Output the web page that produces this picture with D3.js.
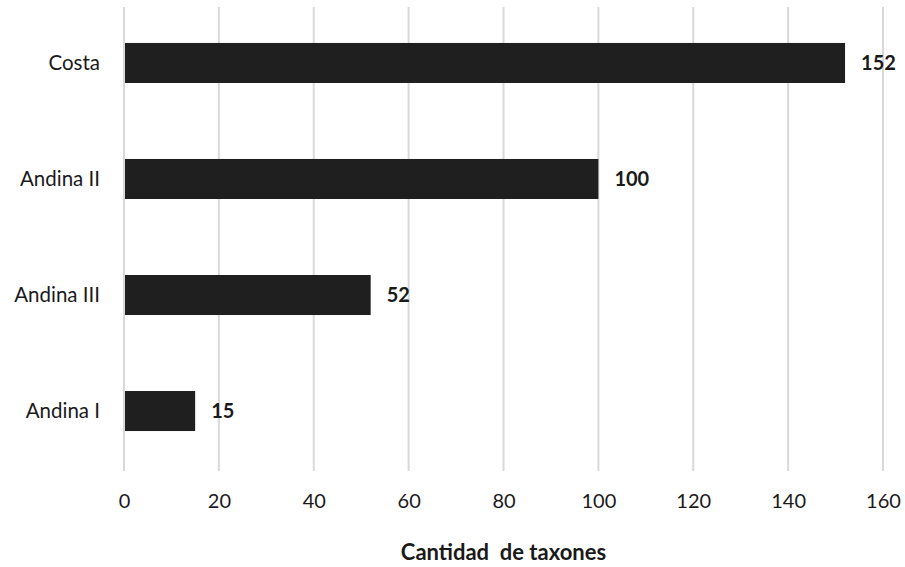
<!DOCTYPE html>
<html>
<head>
<meta charset="utf-8">
<script src="https://cdn.jsdelivr.net/npm/d3@7"></script>
<style>
  body { margin: 0; background: #fff; }
  text { font-family: Lato, "Open Sans", sans-serif; fill: #1a1a1a; }
</style>
</head>
<body>
<svg></svg>
<script>
// Categories and values (top to bottom)
const regions = ["Costa", "Andina II", "Andina III", "Andina I"];
const taxa = [152, 100, 52, 15];
const xTicks = [0, 20, 40, 60, 80, 100, 120, 140, 160];

// Set up the SVG dimensions and margins
const W = 905, H = 567;
const margin = { top: 7, right: 22, bottom: 96, left: 124 };
const width = W - margin.left - margin.right;
const height = H - margin.top - margin.bottom;

const svg = d3.select("svg")
  .attr("width", W)
  .attr("height", H)
  .append("g")
  .attr("transform", `translate(${margin.left},${margin.top})`);

// Scales
const x = d3.scaleLinear().domain([0, 160]).range([0, width]);
const y = d3.scaleBand()
  .domain(regions)
  .range([0, height - 4])
  .paddingInner(0.655)
  .paddingOuter(0.31);

// Vertical gridlines
svg.append("g")
  .selectAll("line")
  .data(xTicks)
  .join("line")
  .attr("x1", d => x(d)).attr("x2", d => x(d))
  .attr("y1", 0).attr("y2", height)
  .attr("stroke", "#d9d9d9")
  .attr("stroke-width", 2);

// X axis labels
const xAxis = svg.append("g")
  .attr("transform", `translate(0,${height})`)
  .call(d3.axisBottom(x).tickValues(xTicks).tickSize(0).tickPadding(23));
xAxis.select(".domain").remove();
xAxis.selectAll("text")
  .style("font-size", "20px")
  .attr("fill", "#1a1a1a");

// Y axis labels
const yAxis = svg.append("g")
  .call(d3.axisLeft(y).tickSize(0).tickPadding(24));
yAxis.select(".domain").remove();
yAxis.selectAll("text")
  .style("font-size", "20.5px")
  .attr("fill", "#1a1a1a");

// Bars
svg.selectAll(".bar")
  .data(regions)
  .join("rect")
  .attr("class", "bar")
  .attr("x", x(0) + 1)
  .attr("y", d => y(d))
  .attr("width", (d, i) => x(taxa[i]) - x(0) - 1)
  .attr("height", y.bandwidth())
  .attr("fill", "#1f1f1f");

// Value labels
svg.selectAll(".val")
  .data(regions)
  .join("text")
  .attr("class", "val")
  .attr("x", (d, i) => x(taxa[i]) + 16)
  .attr("y", d => y(d) + y.bandwidth() / 2)
  .attr("dy", "0.35em")
  .style("font-size", "20px")
  .style("font-weight", "bold")
  .text((d, i) => taxa[i]);

// Axis title
svg.append("text")
  .attr("x", width / 2)
  .attr("y", height + 89)
  .attr("text-anchor", "middle")
  .style("font-size", "22px")
  .style("font-weight", "bold")
  .style("white-space", "pre")
  .text("Cantidad  de taxones");
</script>
</body>
</html>
